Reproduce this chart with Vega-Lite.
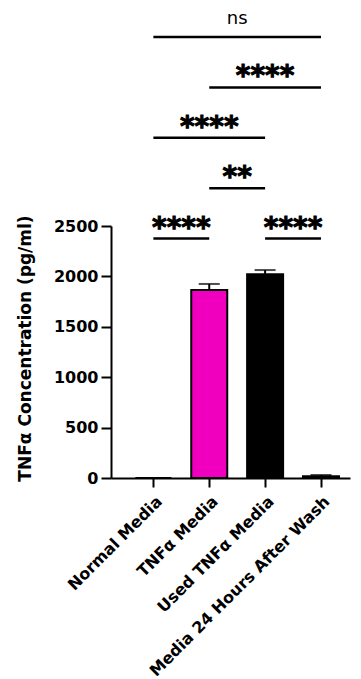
{
  "$schema": "https://vega.github.io/schema/vega-lite/v6.json",
  "width": 239,
  "height": 252,
  "autosize": {"type": "none"},
  "padding": {"left": 111, "top": 226, "right": 11, "bottom": 201},
  "background": "white",
  "config": {
    "view": {"stroke": null},
    "font": "DejaVu Sans",
    "axis": {"grid": false, "domainColor": "black", "domainWidth": 2, "tickColor": "black", "tickWidth": 2, "labelColor": "black", "labelFont": "DejaVu Sans", "labelFontWeight": "bold", "titleColor": "black", "titleFont": "DejaVu Sans", "titleFontWeight": "bold", "labelOverlap": false, "labelLimit": 0}
  },
  "datasets": {
    "bars": [
      {"idx": 0, "group": "Normal Media", "mean": 0, "upper": 0},
      {"idx": 1, "group": "TNFα Media", "mean": 1865, "upper": 1925},
      {"idx": 2, "group": "Used TNFα Media", "mean": 2021, "upper": 2063},
      {"idx": 3, "group": "Media 24 Hours After Wash", "mean": 18, "upper": 30}
    ],
    "sig": [
      {"from": 0, "to": 1, "mid": 0.5, "y": 2375, "label": "****"},
      {"from": 2, "to": 3, "mid": 2.5, "y": 2375, "label": "****"},
      {"from": 1, "to": 2, "mid": 1.5, "y": 2875, "label": "**"},
      {"from": 0, "to": 2, "mid": 1, "y": 3375, "label": "****"},
      {"from": 1, "to": 3, "mid": 2, "y": 3875, "label": "****"},
      {"from": 0, "to": 3, "mid": 1.5, "y": 4375, "label": "ns"}
    ]
  },
  "layer": [
    {
      "data": {"name": "bars"},
      "mark": {"type": "bar", "orient": "vertical", "width": 36, "stroke": "black", "strokeWidth": 2},
      "encoding": {
        "x": {
          "field": "idx", "type": "quantitative",
          "scale": {"domain": [-0.669, 3.43], "nice": false, "zero": false},
          "axis": {"title": null, "values": [0, 1, 2, 3], "labelExpr": "['Normal Media','TNFα Media','Used TNFα Media','Media 24 Hours After Wash'][datum.value]", "labelAngle": -45, "labelAlign": "right", "labelBaseline": "top", "labelFontSize": 16, "tickSize": 9, "labelPadding": 6}
        },
        "y": {
          "field": "mean", "type": "quantitative",
          "scale": {"domain": [0, 2500], "nice": false},
          "axis": {"title": "TNFα Concentration (pg/ml)", "format": "d", "values": [0, 500, 1000, 1500, 2000, 2500], "labelFontSize": 16, "tickSize": 10, "labelPadding": 3, "titleFontSize": 17, "titleAngle": -90, "titleAlign": "center", "titleBaseline": "middle", "titleX": -86, "titleY": 122}
        },
        "color": {
          "field": "group", "type": "nominal",
          "scale": {"domain": ["Normal Media", "TNFα Media", "Used TNFα Media", "Media 24 Hours After Wash"], "range": ["#ffffff", "#F000BE", "#000000", "#000000"]},
          "legend": null
        }
      }
    },
    {
      "data": {"name": "bars"},
      "mark": {"type": "rule", "color": "black", "strokeWidth": 2},
      "encoding": {
        "x": {"field": "idx", "type": "quantitative"},
        "y": {"field": "mean", "type": "quantitative"},
        "y2": {"field": "upper"}
      }
    },
    {
      "data": {"name": "bars"},
      "mark": {"type": "tick", "orient": "horizontal", "size": 21, "thickness": 2, "color": "black"},
      "encoding": {
        "x": {"field": "idx", "type": "quantitative"},
        "y": {"field": "upper", "type": "quantitative"}
      }
    },
    {
      "data": {"name": "sig"},
      "mark": {"type": "rule", "color": "black", "strokeWidth": 2.5},
      "encoding": {
        "x": {"field": "from", "type": "quantitative"},
        "x2": {"field": "to"},
        "y": {"field": "y", "type": "quantitative"}
      }
    },
    {
      "data": {"name": "sig"},
      "transform": [{"filter": "datum.label != 'ns'"}],
      "mark": {"type": "text", "font": "DejaVu Sans", "fontWeight": "bold", "fontSize": 28, "baseline": "alphabetic", "align": "center", "dy": -2, "color": "black", "stroke": "black", "strokeWidth": 1},
      "encoding": {
        "x": {"field": "mid", "type": "quantitative"},
        "y": {"field": "y", "type": "quantitative"},
        "text": {"field": "label"}
      }
    },
    {
      "data": {"name": "sig"},
      "transform": [{"filter": "datum.label == 'ns'"}],
      "mark": {"type": "text", "font": "DejaVu Sans", "fontSize": 18, "baseline": "alphabetic", "align": "center", "dy": -13, "color": "black"},
      "encoding": {
        "x": {"field": "mid", "type": "quantitative"},
        "y": {"field": "y", "type": "quantitative"},
        "text": {"field": "label"}
      }
    }
  ]
}
